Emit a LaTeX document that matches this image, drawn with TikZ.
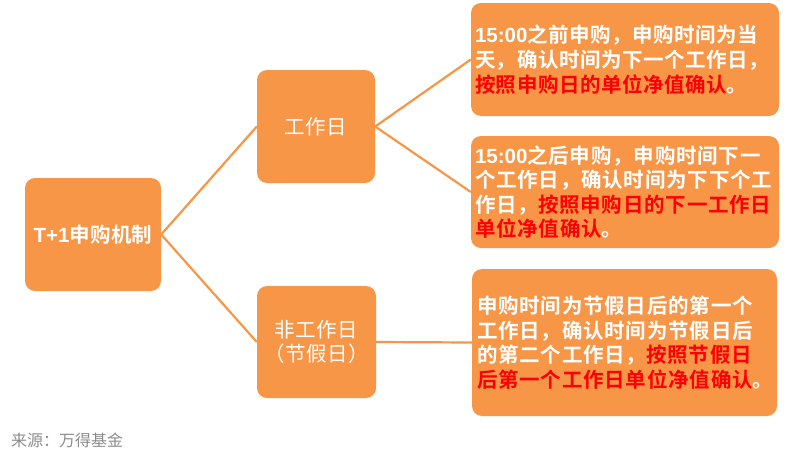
\documentclass[tikz,border=0pt]{standalone}
\usepackage{fontspec}
\setmainfont{Noto Sans CJK SC}[BoldFont={* Bold}]
\newfontfamily\latin{Liberation Sans}
\definecolor{boxorange}{RGB}{247,150,70}
\definecolor{hl}{RGB}{255,0,0}
\definecolor{srcgray}{RGB}{140,140,140}
\begin{document}
\begin{tikzpicture}[x=1pt,y=-1pt,
  box/.style={fill=boxorange, draw=none, rounded corners=10pt, inner sep=0pt, text=white,
    font=\fontsize{20.5}{25}\selectfont\addfontfeature{LetterSpace=1.5}},
  textbox/.style={box, align=left, font=\fontsize{20.5}{25}\selectfont\bfseries\addfontfeature{LetterSpace=2.5}},
  widebox/.style={textbox, font=\fontsize{20.5}{24.5}\selectfont\bfseries\addfontfeature{LetterSpace=3.8}},
  link/.style={draw=boxorange, line width=2.2pt}]
\useasboundingbox (0,0) rectangle (800,466);

\node[box, minimum width=136pt, minimum height=113pt, font=\fontsize{20.5}{25}\selectfont\bfseries\addfontfeature{LetterSpace=1.5}] (root) at (93,234.5) {{\latin\bfseries T+1}申购机制};
\node[box, minimum width=118pt, minimum height=113pt] (wd) at (316,126.5) {工作日};
\node[box, minimum width=119pt, minimum height=112pt, align=center, font=\fontsize{20.5}{24}\selectfont\addfontfeature{LetterSpace=3}] (nwd) at (316.5,342) {非工作日\\（节假日）};

\node[textbox, minimum width=308pt, minimum height=113pt, text width=300pt] (a) at (625,59.5)
  {{\latin\bfseries 15:00}之前申购，申购时间为当\\天，确认时间为下一个工作日，\\\textcolor{hl}{按照申购日的单位净值确认}。};
\node[widebox, minimum width=308pt, minimum height=112pt, text width=300pt] (b) at (625,192)
  {{\latin\bfseries 15:00}之后申购，申购时间下一\\个工作日，确认时间为下下个工\\作日，\textcolor{hl}{按照申购日的下一工作日}\\\textcolor{hl}{单位净值确认}。};
\node[widebox, minimum width=305pt, minimum height=147pt, text width=295pt] (c) at (624.5,342.5)
  {申购时间为节假日后的第一个\\工作日，确认时间为节假日后\\的第二个工作日，\textcolor{hl}{按照节假日}\\\textcolor{hl}{后第一个工作日单位净值确认}。};

\draw[link] (root.east) -- (wd.west);
\draw[link] (root.east) -- (nwd.west);
\draw[link] (wd.east) -- (a.west);
\draw[link] (wd.east) -- (b.west);
\draw[link] (nwd.east) -- (c.west);

\node[anchor=west, inner sep=0pt, text=srcgray, font=\fontsize{16}{18}\selectfont] (src) at (11,440) {来源：万得基金};
\end{tikzpicture}
\end{document}
